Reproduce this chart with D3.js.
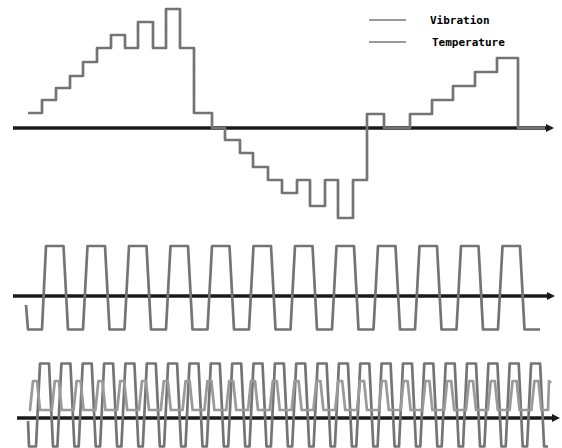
<!DOCTYPE html>
<html>
<head>
<meta charset="utf-8">
<script src="https://cdn.jsdelivr.net/npm/d3@7"></script>
<style>
  html, body { margin: 0; padding: 0; background: #fff; }
  svg { display: block; }
</style>
</head>
<body>
<svg id="chart" width="562" height="448"></svg>
<script>
// ---------------- DATA ----------------
const seriesNames = ["Vibration", "Temperature"];

// Top panel: stepped vibration signal (time, amplitude) – step-after
const topTime  = [15, 29, 43, 57, 70, 84, 98, 112, 125, 140, 153, 167, 181, 199, 212, 227, 240, 255, 269, 284, 297, 312, 325, 340, 354, 371, 397, 419, 440, 462, 484, 505, 532];
const topValue = [1.5, 2.8, 4.0, 5.2, 6.6, 8.0, 9.3, 8.0, 10.6, 8.0, 11.9, 8.0, 1.5, 0, -1.2, -2.5, -3.9, -5.2, -6.5, -5.2, -7.8, -5.2, -9.0, -5.2, 1.4, 0, 1.4, 2.8, 4.2, 5.6, 7.0, 0, 0];

// Middle panel: trapezoidal vibration wave
const midTime = [13, 15, 29,
  33, 50.5, 55, 70,
  74.5, 92, 96.5, 111.5,
  116, 133.5, 138, 153,
  157.5, 175, 179.5, 194.5,
  199, 216.5, 221, 236,
  240.5, 258, 262.5, 277.5,
  282, 299.5, 304, 319,
  323.5, 341, 345.5, 360.5,
  365, 382.5, 387, 402,
  406.5, 424, 428.5, 443.5,
  448, 465.5, 470, 485,
  489.5, 507, 511.5, 527];
const midValue = [-0.9, -3.35, -3.35,
  5, 5, -3.35, -3.35,
  5, 5, -3.35, -3.35,
  5, 5, -3.35, -3.35,
  5, 5, -3.35, -3.35,
  5, 5, -3.35, -3.35,
  5, 5, -3.35, -3.35,
  5, 5, -3.35, -3.35,
  5, 5, -3.35, -3.35,
  5, 5, -3.35, -3.35,
  5, 5, -3.35, -3.35,
  5, 5, -3.35, -3.35,
  5, 5, -3.35, -3.35];

// Bottom panel: vibration (fast, tall)
const botVibTime = [15, 16, 23,
  27, 36, 40, 44.4,
  48.4, 57.4, 61.4, 65.7,
  69.7, 78.7, 82.7, 87.1,
  91.1, 100.1, 104.1, 108.4,
  112.4, 121.4, 125.4, 129.8,
  133.8, 142.8, 146.8, 151.1,
  155.1, 164.1, 168.1, 172.5,
  176.5, 185.5, 189.5, 193.8,
  197.8, 206.8, 210.8, 215.2,
  219.2, 228.2, 232.2, 236.5,
  240.5, 249.5, 253.5, 257.9,
  261.9, 270.9, 274.9, 279.2,
  283.2, 292.2, 296.2, 300.6,
  304.6, 313.6, 317.6, 321.9,
  325.9, 334.9, 338.9, 343.3,
  347.3, 356.3, 360.3, 364.6,
  368.6, 377.6, 381.6, 386.0,
  390.0, 399.0, 403.0, 407.3,
  411.3, 420.3, 424.3, 428.7,
  432.7, 441.7, 445.7, 450.0,
  454.0, 463.0, 467.0, 471.4,
  475.4, 484.4, 488.4, 492.7,
  496.7, 505.7, 509.7, 514.1,
  518.1, 527.1, 531.1, 535];
const botVibValue = [-0.3, -2.85, -2.85,
  5.45, 5.45, -2.85, -2.85,
  5.45, 5.45, -2.85, -2.85,
  5.45, 5.45, -2.85, -2.85,
  5.45, 5.45, -2.85, -2.85,
  5.45, 5.45, -2.85, -2.85,
  5.45, 5.45, -2.85, -2.85,
  5.45, 5.45, -2.85, -2.85,
  5.45, 5.45, -2.85, -2.85,
  5.45, 5.45, -2.85, -2.85,
  5.45, 5.45, -2.85, -2.85,
  5.45, 5.45, -2.85, -2.85,
  5.45, 5.45, -2.85, -2.85,
  5.45, 5.45, -2.85, -2.85,
  5.45, 5.45, -2.85, -2.85,
  5.45, 5.45, -2.85, -2.85,
  5.45, 5.45, -2.85, -2.85,
  5.45, 5.45, -2.85, -2.85,
  5.45, 5.45, -2.85, -2.85,
  5.45, 5.45, -2.85, -2.85,
  5.45, 5.45, -2.85, -2.85,
  5.45, 5.45, -2.85, -2.85,
  5.45, 5.45, -2.85, -2.85,
  5.45, 5.45, -2.85, -2.85,
  5.45, 5.45, -2.85, -2.85];

// Bottom panel: temperature (small humps)
const botTempTime = [16,
  17, 20, 24, 27,
  38.8, 41.8, 45.8, 48.8,
  60.6, 63.6, 67.6, 70.6,
  82.4, 85.4, 89.4, 92.4,
  104.2, 107.2, 111.2, 114.2,
  126, 129, 133, 136,
  147.8, 150.8, 154.8, 157.8,
  169.6, 172.6, 176.6, 179.6,
  191.4, 194.4, 198.4, 201.4,
  213.2, 216.2, 220.2, 223.2,
  235, 238, 242, 245,
  256.8, 259.8, 263.8, 266.8,
  278.6, 281.6, 285.6, 288.6,
  300.4, 303.4, 307.4, 310.4,
  322.2, 325.2, 329.2, 332.2,
  344, 347, 351, 354,
  365.8, 368.8, 372.8, 375.8,
  387.6, 390.6, 394.6, 397.6,
  409.4, 412.4, 416.4, 419.4,
  431.2, 434.2, 438.2, 441.2,
  453, 456, 460, 463,
  474.8, 477.8, 481.8, 484.8,
  496.6, 499.6, 503.6, 506.6,
  518.4, 521.4, 525.4, 528.4,
  535, 536, 538];
const botTempValue = [0.8,
  0.8, 3.7, 3.7, 0.8,
  0.8, 3.7, 3.7, 0.8,
  0.8, 3.7, 3.7, 0.8,
  0.8, 3.7, 3.7, 0.8,
  0.8, 3.7, 3.7, 0.8,
  0.8, 3.7, 3.7, 0.8,
  0.8, 3.7, 3.7, 0.8,
  0.8, 3.7, 3.7, 0.8,
  0.8, 3.7, 3.7, 0.8,
  0.8, 3.7, 3.7, 0.8,
  0.8, 3.7, 3.7, 0.8,
  0.8, 3.7, 3.7, 0.8,
  0.8, 3.7, 3.7, 0.8,
  0.8, 3.7, 3.7, 0.8,
  0.8, 3.7, 3.7, 0.8,
  0.8, 3.7, 3.7, 0.8,
  0.8, 3.7, 3.7, 0.8,
  0.8, 3.7, 3.7, 0.8,
  0.8, 3.7, 3.7, 0.8,
  0.8, 3.7, 3.7, 0.8,
  0.8, 3.7, 3.7, 0.8,
  0.8, 3.7, 3.7, 0.8,
  0.8, 3.7, 3.7, 0.8,
  0.8, 3.7, 3.7, 0.8,
  0.8, 3.7, 3.5];

// Axis extents (time units) per panel
const axisStart = [0, 0, 4];
const axisEnd   = [541, 542, 547];

// ---------------- CHART ----------------
const svg = d3.select("#chart");
const colors = { Vibration: "#747474", Temperature: "#9a9a9a" };

const x = d3.scaleLinear().domain([0, 540]).range([13, 553]);

// panels: zero line position and y scales (10 px per unit)
const yTop = d3.scaleLinear().domain([-10, 12]).range([228, 8]);
const yMid = d3.scaleLinear().domain([-4, 6]).range([336, 236]);
const yBot = d3.scaleLinear().domain([-3, 6]).range([448, 358]);
const yScales = [yTop, yMid, yBot];

// axes with arrowheads
yScales.forEach((ys, i) => {
  const y0 = ys(0);
  const x0 = x(axisStart[i]), x1 = x(axisEnd[i]);
  svg.append("line")
    .attr("x1", x0).attr("x2", x1 - 5)
    .attr("y1", y0).attr("y2", y0)
    .attr("stroke", "#1a1a1a").attr("stroke-width", 3.4);
  svg.append("path")
    .attr("d", `M${x1},${y0} L${x1 - 8},${y0 - 4} L${x1 - 8},${y0 + 4} Z`)
    .attr("fill", "#1a1a1a");
});

function drawSeries(times, values, ys, color, curve) {
  const pts = times.map((t, i) => [t, values[i]]);
  const line = d3.line()
    .x(d => x(d[0]))
    .y(d => ys(d[1]))
    .curve(curve || d3.curveLinear);
  svg.append("path")
    .attr("d", line(pts))
    .attr("fill", "none")
    .attr("stroke", color)
    .attr("stroke-width", 2.7)
    .attr("stroke-linejoin", "round");
}

drawSeries(topTime, topValue, yTop, colors.Vibration, d3.curveStepAfter);
drawSeries(midTime, midValue, yMid, colors.Vibration);
drawSeries(botVibTime, botVibValue, yBot, colors.Vibration);
drawSeries(botTempTime, botTempValue, yBot, colors.Temperature);

// legend
const legend = svg.append("g").attr("transform", "translate(369,20)");
seriesNames.forEach((name, i) => {
  const g = legend.append("g").attr("transform", `translate(0,${i * 22})`);
  g.append("line")
    .attr("x1", 0).attr("x2", 37)
    .attr("y1", 0).attr("y2", 0)
    .attr("stroke", colors.Temperature).attr("stroke-width", 2);
  g.append("text")
    .attr("x", 61 + i * 2).attr("y", 4)
    .attr("font-family", "'DejaVu Sans Mono', monospace")
    .attr("font-weight", "bold")
    .attr("font-size", 11)
    .attr("fill", "#000")
    .text(name);
});
</script>
</body>
</html>
